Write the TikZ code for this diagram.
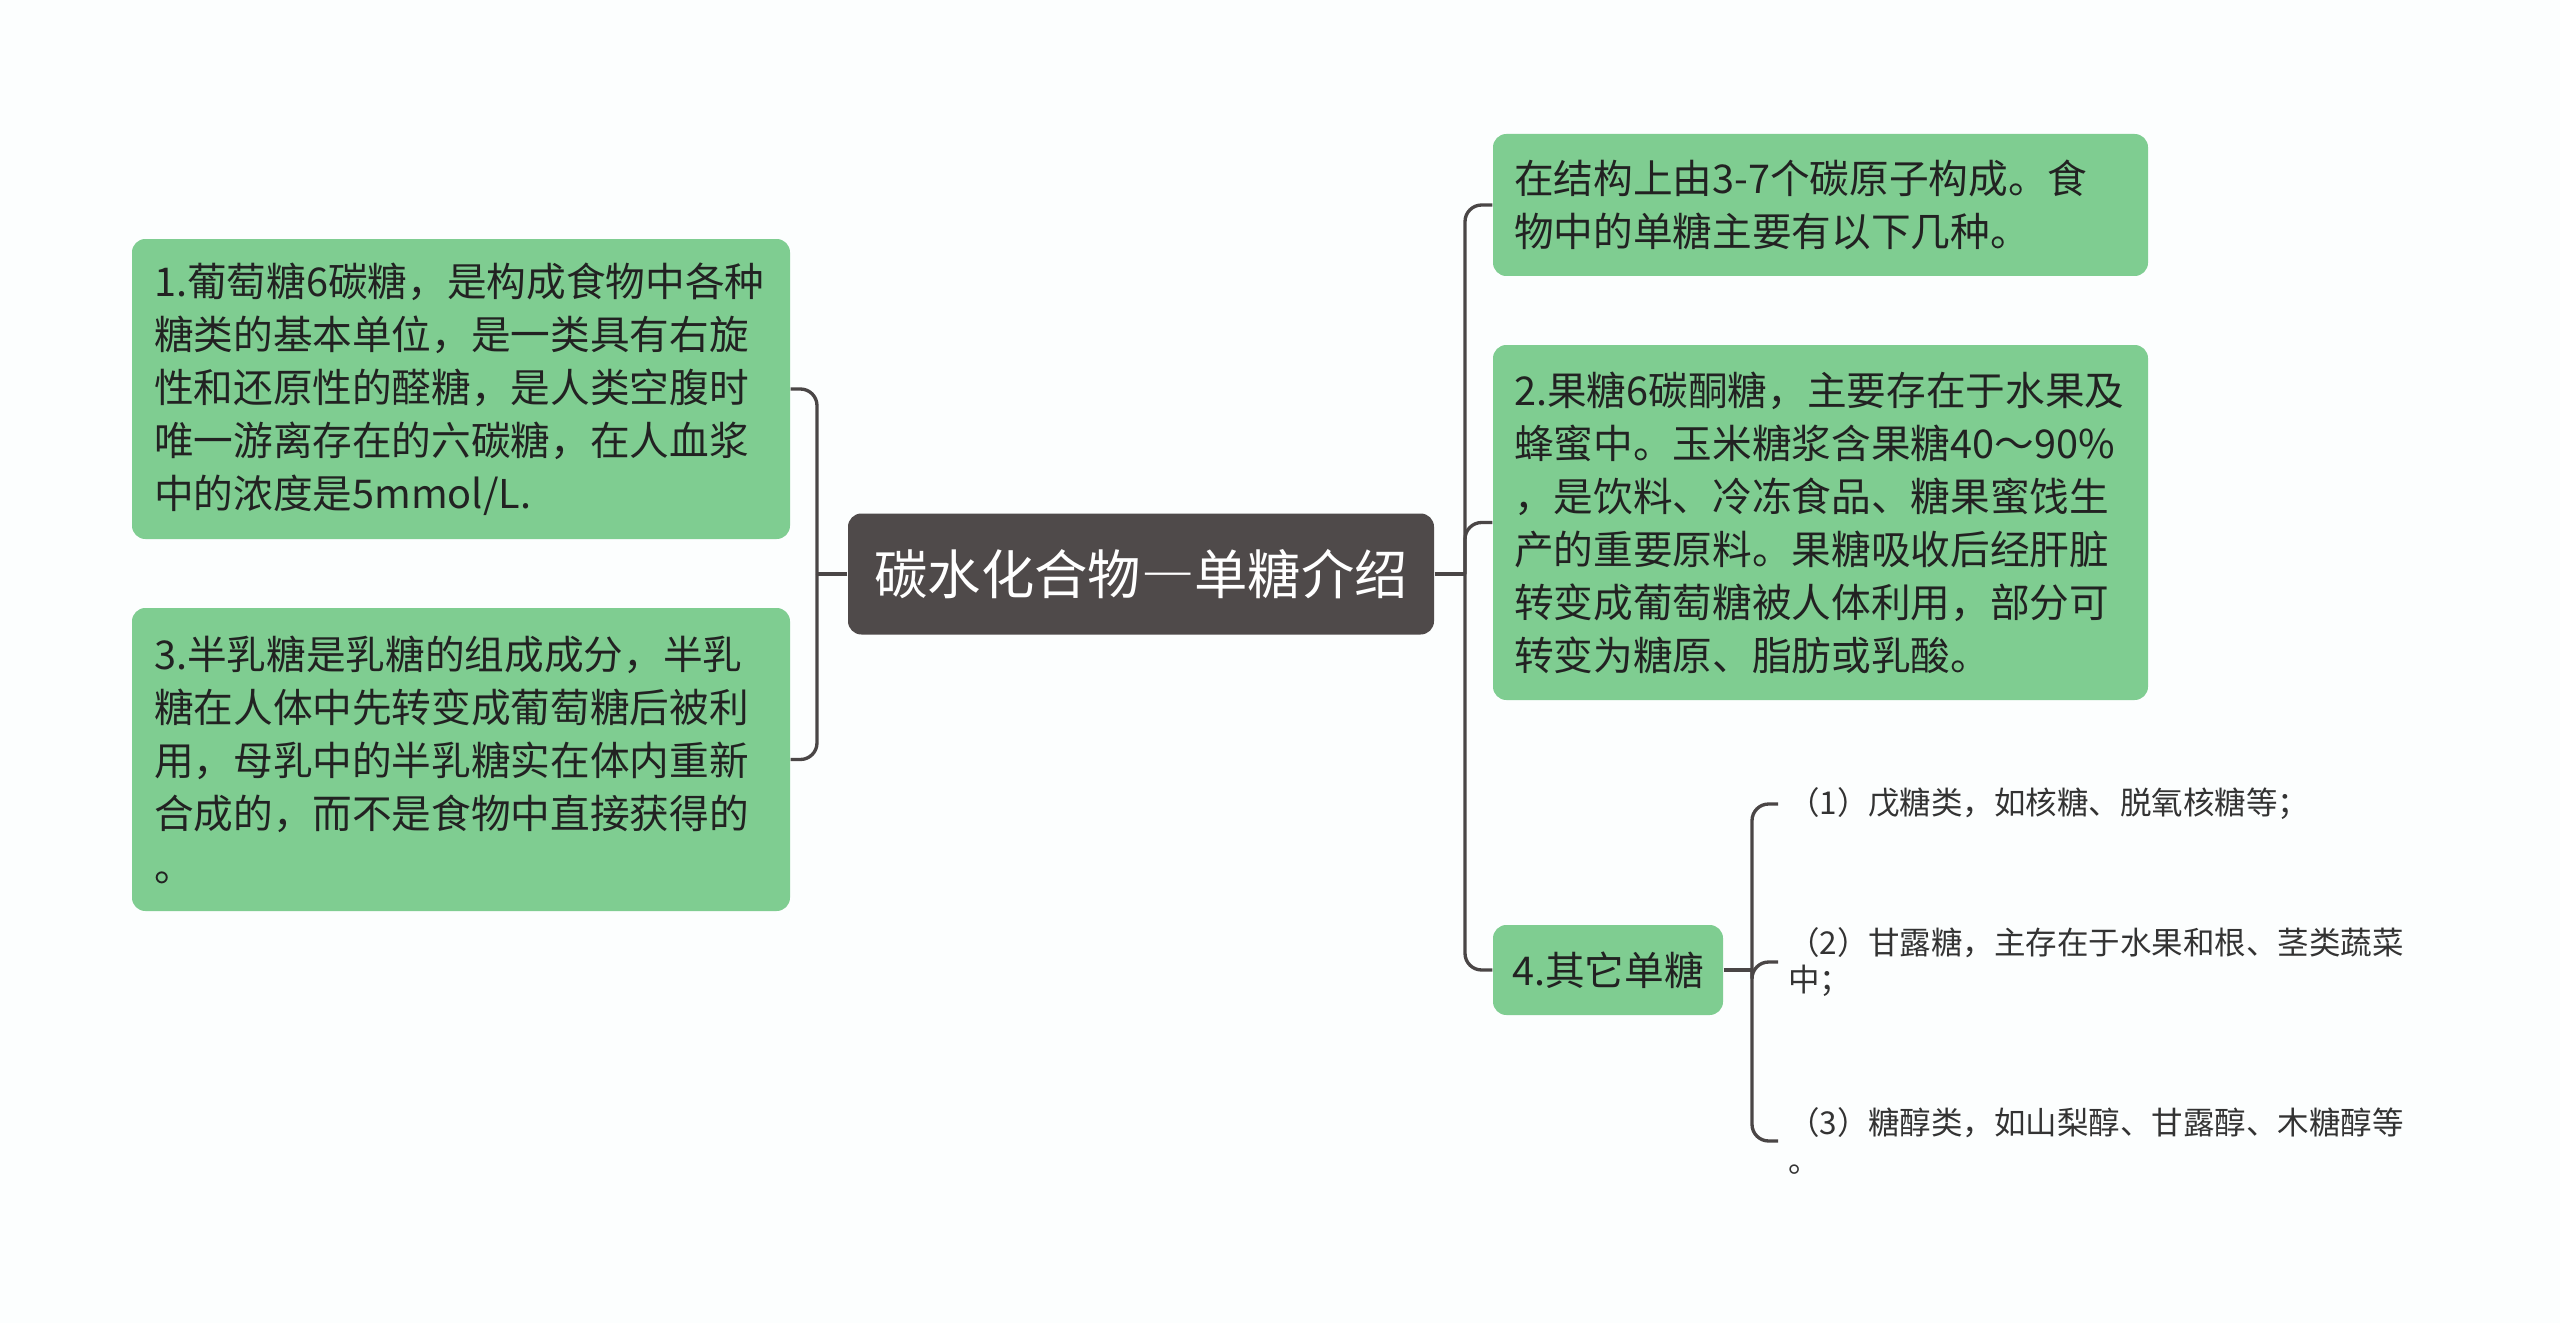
\documentclass[tikz,border=0pt]{standalone}
\usepackage{fontspec}
\setmainfont{Noto Sans CJK SC}
\definecolor{boxgreen}{RGB}{127,205,145}
\definecolor{rootgray}{RGB}{79,74,74}
\definecolor{linegray}{RGB}{74,70,70}
\definecolor{txtdark}{RGB}{34,34,34}
\definecolor{itemtxt}{RGB}{51,51,51}
\definecolor{bgcol}{RGB}{252,254,254}
\tikzset{
  greenbox/.style={fill=boxgreen, rounded corners=4pt, text=txtdark, align=left,
    inner ysep=0pt, font=\fontsize{11.9pt}{15.9pt}\selectfont},
  rootbox/.style={fill=rootgray, rounded corners=4pt, text=white, align=center,
    minimum width=175.8pt, minimum height=36.3pt, inner sep=0pt,
    font=\fontsize{16pt}{19pt}\selectfont},
  itembox/.style={anchor=west, text=itemtxt, align=left, inner xsep=2.8pt, inner ysep=0pt,
    font=\fontsize{9.45pt}{11.3pt}\selectfont},
  conn/.style={draw=linegray, line width=1pt, rounded corners=5pt},
}
\begin{document}
\begin{tikzpicture}[x=0.3pt,y=-0.3pt]
\fill[bgcol] (0,0) rectangle (2560,1323);
\useasboundingbox (0,0) rectangle (2560,1323);

\node[rootbox] (root) at (1141,574) {碳水化合物{\addfontfeature{RawFeature=+fwid}—}单糖介绍};

\node[greenbox, text width=184.2pt, inner xsep=6.6pt, minimum height=90pt] (n1) at (461,389)
  {1.葡萄糖6碳糖，是构成食物中各种\\糖类的基本单位，是一类具有右旋\\性和还原性的醛糖，是人类空腹时\\唯一游离存在的六碳糖，在人血浆\\中的浓度是5mmol/L.};
\node[greenbox, text width=184.2pt, inner xsep=6.6pt, minimum height=90.9pt] (n3) at (461,759.5)
  {3.半乳糖是乳糖的组成成分，半乳\\糖在人体中先转变成葡萄糖后被利\\用，母乳中的半乳糖实在体内重新\\合成的，而不是食物中直接获得的\\。};

\node[greenbox, text width=183.9pt, inner xsep=6.3pt, minimum height=42.6pt] (na) at (1820.5,205)
  {在结构上由3-7个碳原子构成。食\\物中的单糖主要有以下几种。};
\node[greenbox, text width=183.9pt, inner xsep=6.3pt, minimum height=106.5pt] (n2) at (1820.5,522.5)
  {2.果糖6碳酮糖，主要存在于水果及\\蜂蜜中。玉米糖浆含果糖40～90\%\\，是饮料、冷冻食品、糖果蜜饯生\\产的重要原料。果糖吸收后经肝脏\\转变成葡萄糖被人体利用，部分可\\转变为糖原、脂肪或乳酸。};
\node[greenbox, align=center, minimum width=69pt, minimum height=27pt, inner xsep=0pt] (n4) at (1608,970)
  {4.其它单糖};

\node[itembox] (i1) at (1778,804) {（1）戊糖类，如核糖、脱氧核糖等；};
\node[itembox] (i2) at (1778,962) {（2）甘露糖，主存在于水果和根、茎类蔬菜\\中；};
\node[itembox] (i3) at (1778,1141) {（3）糖醇类，如山梨醇、甘露醇、木糖醇等\\。};

\coordinate (lj) at (817,574);
\coordinate (rj) at (1465,574);
\coordinate (fj) at (1752,970);

\draw[conn] (root.west) -- (lj);
\draw[conn] (lj) |- (n1.east);
\draw[conn] (lj) |- (n3.east);

\draw[conn] (root.east) -- (rj);
\draw[conn] (rj) |- (na.west);
\draw[conn] (rj) |- (n2.west);
\draw[conn] (rj) |- (n4.west);

\draw[conn] (n4.east) -- (fj);
\draw[conn] (fj) |- (i1.west);
\draw[conn] (fj) |- (i2.west);
\draw[conn] (fj) |- (i3.west);
\end{tikzpicture}
\end{document}
